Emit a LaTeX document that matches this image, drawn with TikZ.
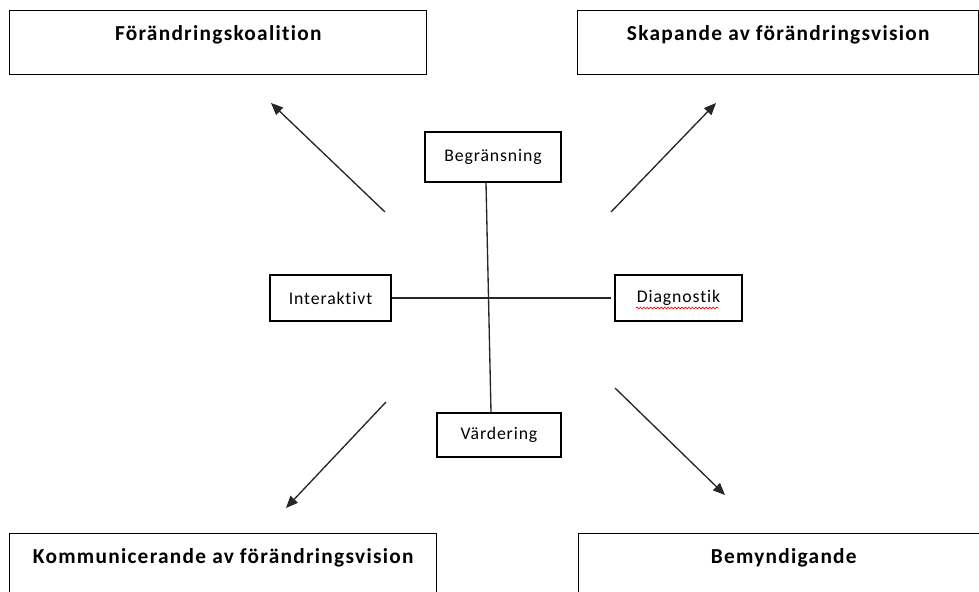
\documentclass[tikz,border=0pt]{standalone}
\usepackage{fontspec}
\setmainfont{Carlito}
\newfontfamily\headfont[LetterSpace=6, Ligatures=NoCommon]{Carlito}
\newfontfamily\itemfont[LetterSpace=5, Ligatures=NoCommon]{Carlito}
\usetikzlibrary{arrows.meta, decorations.pathmorphing}

\tikzset{
    headbox/.style={draw, line width=1.1pt, anchor=north west, inner ysep=0pt,
        text height=22.5pt, text depth=25.5pt, font=\headfont\bfseries\fontsize{16}{19}\selectfont},
    itembox/.style={draw, line width=1.1pt, inner sep=0pt, font=\itemfont\fontsize{13.3}{16}\selectfont},
    pointer/.style={line width=1pt, draw=black!85, -{Triangle[length=9pt, width=7.5pt]}}
}

\begin{document}
\begin{tikzpicture}[x=0.75pt, y=-0.75pt]
    \useasboundingbox (0,0) rectangle (979,592);

    % Corner boxes
    \node[headbox, minimum width=312.75pt] (koal) at (9,10) {Förändringskoalition};
    \node[headbox, minimum width=300.75pt] (skap) at (577,10) {Skapande av förändringsvision};
    \node[headbox, minimum width=320.25pt] (komm) at (9,533) {Kommunicerande av förändringsvision};
    \node[headbox, minimum width=307.5pt] (bemy) at (578,533) {Bemyndigande};

    % Cross
    \node[itembox, minimum width=102pt, minimum height=37.5pt] (begr) at (493,157) {Begränsning};
    \node[itembox, minimum width=90.75pt, minimum height=34.5pt] (inter) at (330.5,298) {Interaktivt};
    \node[itembox, minimum width=95.25pt, minimum height=34.5pt] (diag) at (678.5,298) {Diagnostik};
    \node[itembox, minimum width=93pt, minimum height=33pt] (vard) at (499,435) {Värdering};

    \draw[line width=1pt, black!85] ([xshift=-5.25pt]begr.south) -- ([xshift=-6pt]vard.north);
    \draw[line width=1pt, black!85] (inter.east) -- ([xshift=-2.25pt]diag.west);

    % Spelling mark
    \draw[red, line width=0.5pt, decorate, decoration={snake, amplitude=0.7pt, segment length=2.6pt}]
        ([shift={(-32pt,-7.5pt)}]diag.center) -- ([shift={(30pt,-7.5pt)}]diag.center);

    % Arrows
    \coordinate (s1) at (385,212); \coordinate (e1) at (271,103);
    \coordinate (s2) at (611,212); \coordinate (e2) at (716,103);
    \coordinate (s3) at (386,402); \coordinate (e3) at (286,508);
    \coordinate (s4) at (615,388); \coordinate (e4) at (725,495);
    \foreach \i in {1,...,4} {
        \draw[pointer] (s\i) -- (e\i);
    }
\end{tikzpicture}
\end{document}
